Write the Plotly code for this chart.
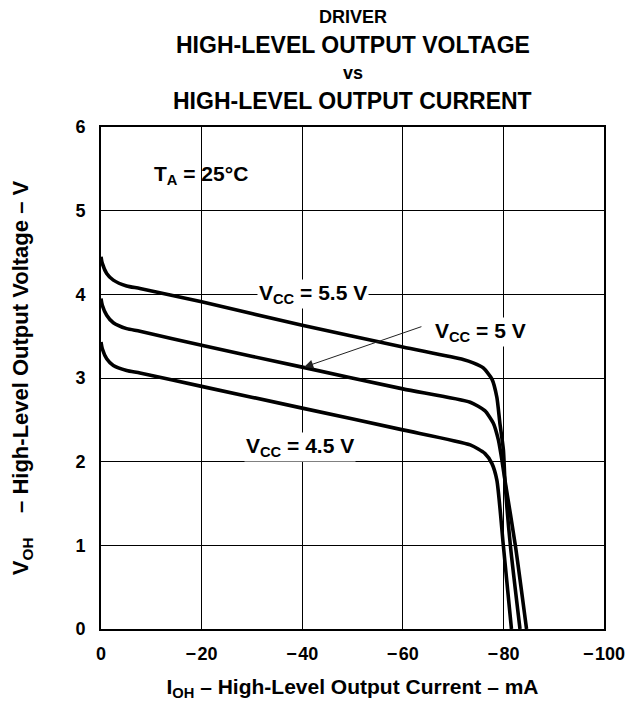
import plotly.graph_objects as go

# ---- data ----
vcc_labels = ["V<sub>CC</sub> = 5.5 V", "V<sub>CC</sub> = 5 V", "V<sub>CC</sub> = 4.5 V"]

i_55 = [0, -0.26, -1.13, -2.45, -5.1, -7.75, -20, -40, -60, -72, -74, -76, -77.7, -78.7, -79.3, -80, -80.3, -81.4, -83.3]
v_55 = [4.45, 4.37, 4.25, 4.17, 4.10, 4.07, 3.91, 3.63, 3.37, 3.22, 3.18, 3.12, 2.99, 2.77, 2.46, 2.14, 1.78, 0.99, 0]

i_50 = [0, -0.26, -1.13, -2.45, -5.1, -7.75, -20, -40, -60, -73.4, -76.3, -78, -79, -79.7, -80.3, -82.4, -84.6]
v_50 = [3.95, 3.87, 3.75, 3.66, 3.59, 3.56, 3.39, 3.13, 2.87, 2.71, 2.61, 2.46, 2.26, 2.02, 1.78, 0.99, 0]

i_45 = [0, -0.26, -1.13, -2.45, -5.1, -7.75, -20, -40, -60, -73.4, -76.3, -77.7, -78.7, -80, -81.6]
v_45 = [3.43, 3.35, 3.23, 3.15, 3.09, 3.06, 2.90, 2.64, 2.38, 2.20, 2.10, 1.98, 1.78, 0.99, 0]

x_tickvals = [0, -20, -40, -60, -80, -100]
x_ticktext = ["0", "\u2212\u200a20", "\u2212\u200a40", "\u2212\u200a60", "\u2212\u200a80", "\u2212\u200a100"]
y_tickvals = [0, 1, 2, 3, 4, 5, 6]
y_ticktext = ["0", "1", "2", "3", "4", "5", "6"]

title_lines = ["DRIVER", "HIGH-LEVEL OUTPUT VOLTAGE", "vs", "HIGH-LEVEL OUTPUT CURRENT"]

FONT = "Liberation Sans, Arial, Helvetica, sans-serif"

fig = go.Figure()
for xs, ys, name in [(i_55, v_55, vcc_labels[0]), (i_50, v_50, vcc_labels[1]), (i_45, v_45, vcc_labels[2])]:
    fig.add_trace(go.Scatter(x=xs, y=ys, mode="lines", name=name,
                             line=dict(color="black", width=3.6, shape="spline", smoothing=0.6),
                             showlegend=False, hoverinfo="skip"))

# page body has an 8px margin, so the figure starts at (8, 8) in the window
OFF = 8
W, H = 634 - OFF, 701 - OFF
L, R, T, B = 101 - OFF, 30, 127 - OFF, 72
ph = H - T - B
pw = W - L - R

def ypaper(py):  # py in window pixels
    return (H - B - (py - OFF)) / ph

def xpaper(px):
    return ((px - OFF) - L) / pw

fig.update_layout(
    width=W, height=H,
    margin=dict(l=L, r=R, t=T, b=B, pad=0, autoexpand=False),
    paper_bgcolor="white", plot_bgcolor="white",
    font=dict(family=FONT, color="black", size=18, weight="bold"),
    xaxis=dict(range=[0, -100], tickvals=x_tickvals, ticktext=x_ticktext,
               showgrid=True, gridcolor="black", gridwidth=1,
               showline=True, linecolor="black", linewidth=2, mirror=True,
               zeroline=False, ticks="", ticklabelstandoff=7, automargin=False,
               tickfont=dict(size=18, weight="bold"),
               title=dict(text="I<sub>OH</sub> \u2013 High-Level Output Current \u2013 mA",
                          font=dict(size=21, weight="bold"), standoff=17)),
    yaxis=dict(range=[0, 6], tickvals=y_tickvals, ticktext=y_ticktext,
               showgrid=True, gridcolor="black", gridwidth=1,
               showline=True, linecolor="black", linewidth=2, mirror=True,
               zeroline=False, ticks="", ticklabelstandoff=10, automargin=False,
               tickfont=dict(size=18, weight="bold"),
               title=dict(text="V<sub>OH</sub>    \u2013 High-Level Output Voltage \u2013 V",
                          font=dict(size=22, weight="bold"), standoff=47)),
)

# title lines
title_y = [17, 45, 73, 101]
title_sizes = [18, 23, 18, 23]
for txt, py, sz in zip(title_lines, title_y, title_sizes):
    fig.add_annotation(text=txt, xref="paper", yref="paper", x=xpaper(352.5), y=ypaper(py),
                       showarrow=False, xanchor="center", yanchor="middle",
                       font=dict(size=sz, weight="bold"))

# in-plot labels
fig.add_annotation(text="T<sub>A</sub> = 25\u00b0C", x=-19.8, y=5.43, showarrow=False,
                   font=dict(size=21, weight="bold"), xanchor="center", yanchor="middle")
fig.add_annotation(text=vcc_labels[0], x=-42.2, y=4.0, showarrow=False, bgcolor="white",
                   font=dict(size=21, weight="bold"), xanchor="center", yanchor="middle")
fig.add_annotation(text=vcc_labels[1], x=-75.4, y=3.55, showarrow=False, bgcolor="white",
                   font=dict(size=21, weight="bold"), xanchor="center", yanchor="middle")
fig.add_annotation(text=vcc_labels[2], x=-39.6, y=2.18, showarrow=False, bgcolor="white",
                   font=dict(size=21, weight="bold"), xanchor="center", yanchor="middle")
# arrow to the 5 V curve
fig.add_annotation(text="", x=-40.4, y=3.13, ax=-64.0, ay=3.62, axref="x", ayref="y",
                   showarrow=True, arrowhead=2, arrowsize=1.8, arrowwidth=1, arrowcolor="#222222")

fig.write_html("out.html")
